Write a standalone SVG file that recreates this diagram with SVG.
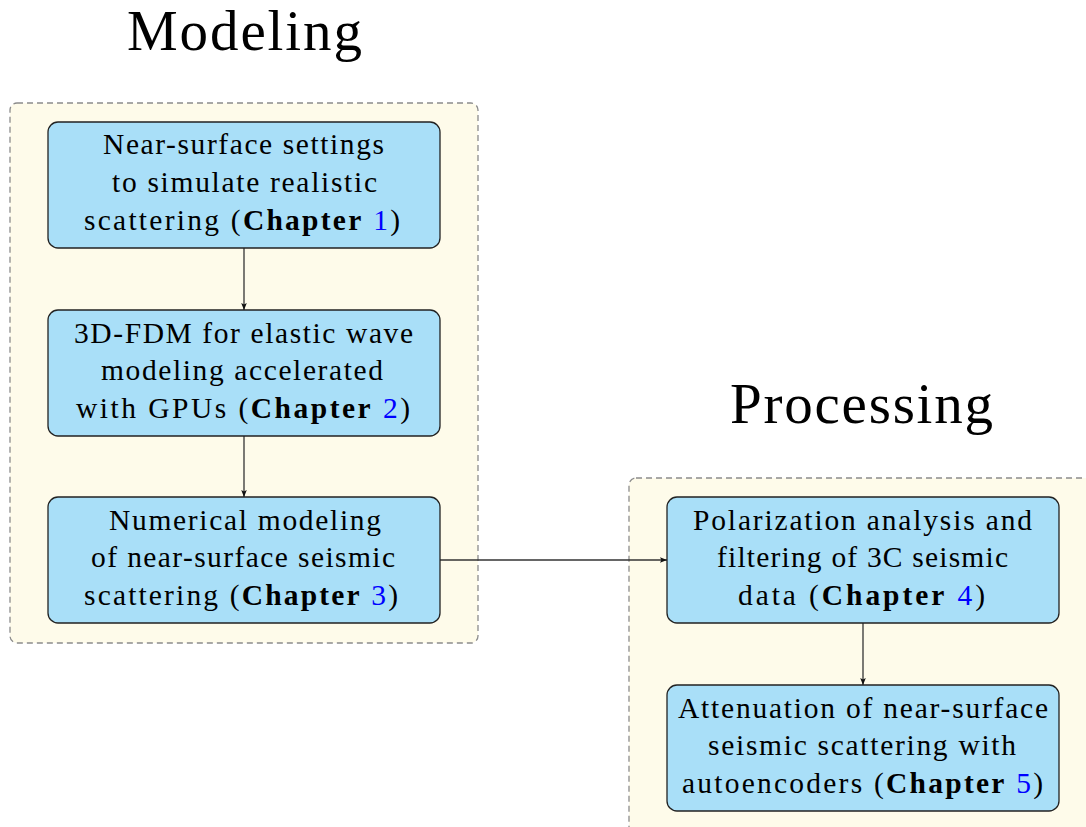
<svg xmlns="http://www.w3.org/2000/svg" width="1086" height="827" viewBox="0 0 1086 827">
<style>
.cont{fill:#FEFBEA;stroke:#8c8c8c;stroke-width:1.3;stroke-dasharray:6 4}
.box{fill:#A9DFF8;stroke:#222;stroke-width:1.3}
.t{font-family:"Liberation Serif",serif;font-size:29.5px;fill:#000}
.title{font-family:"Liberation Serif",serif;font-size:57px;fill:#000}
.b{font-weight:bold}
.n{fill:#0000FF}
.conn{stroke:#333;stroke-width:1.3;fill:none}
</style>
<defs>
<marker id="ah" viewBox="0 0 10 10" refX="10" refY="5" markerWidth="7" markerHeight="7" markerUnits="userSpaceOnUse" orient="auto">
<path d="M0,1 L10,5 L0,9 L2,5 Z" fill="#111"/>
</marker>
</defs>
<rect width="1086" height="827" fill="#fff"/>
<g id="modeling-group">
<rect class="cont" x="10" y="103" width="468" height="540" rx="7"/>
<text class="title" x="127" y="50" textLength="235" lengthAdjust="spacing">Modeling</text>
</g>
<g id="processing-group">
<rect class="cont" x="629" y="478" width="470" height="360" rx="7"/>
<text class="title" x="730" y="423" textLength="263" lengthAdjust="spacing">Processing</text>
</g>
<g id="connectors">
<line class="conn" x1="244" y1="248" x2="244" y2="310" marker-end="url(#ah)"/>
<line class="conn" x1="244" y1="436" x2="244" y2="497" marker-end="url(#ah)"/>
<line class="conn" x1="440" y1="560" x2="667" y2="560" marker-end="url(#ah)"/>
<line class="conn" x1="863" y1="623" x2="863" y2="685" marker-end="url(#ah)"/>
</g>
<g id="node1">
<rect class="box" x="48" y="122" width="392" height="126" rx="10"/>
<text class="t" x="103" y="154" textLength="281" lengthAdjust="spacing">Near-surface settings</text>
<text class="t" x="112" y="191.5" textLength="265" lengthAdjust="spacing">to simulate realistic</text>
<text class="t" x="84" y="229.5" textLength="316" lengthAdjust="spacing">scattering (<tspan class="b">Chapter</tspan> <tspan class="n">1</tspan>)</text>
</g>
<g id="node2">
<rect class="box" x="48" y="310" width="392" height="126" rx="10"/>
<text class="t" x="74" y="342.5" textLength="339" lengthAdjust="spacing">3D-FDM for elastic wave</text>
<text class="t" x="101" y="380" textLength="282" lengthAdjust="spacing">modeling accelerated</text>
<text class="t" x="76" y="417.5" textLength="334" lengthAdjust="spacing">with GPUs (<tspan class="b">Chapter</tspan> <tspan class="n">2</tspan>)</text>
</g>
<g id="node3">
<rect class="box" x="48" y="497" width="392" height="126" rx="10"/>
<text class="t" x="109" y="529.5" textLength="272" lengthAdjust="spacing">Numerical modeling</text>
<text class="t" x="91" y="567" textLength="304" lengthAdjust="spacing">of near-surface seismic</text>
<text class="t" x="84" y="604.5" textLength="314" lengthAdjust="spacing">scattering (<tspan class="b">Chapter</tspan> <tspan class="n">3</tspan>)</text>
</g>
<g id="node4">
<rect class="box" x="667" y="497" width="392" height="126" rx="10"/>
<text class="t" x="693" y="529.5" textLength="339" lengthAdjust="spacing">Polarization analysis and</text>
<text class="t" x="717" y="567" textLength="291" lengthAdjust="spacing">filtering of 3C seismic</text>
<text class="t" x="738" y="604.5" textLength="247" lengthAdjust="spacing">data (<tspan class="b">Chapter</tspan> <tspan class="n">4</tspan>)</text>
</g>
<g id="node5">
<rect class="box" x="667" y="685" width="392" height="126" rx="10"/>
<text class="t" x="678" y="717.5" textLength="370" lengthAdjust="spacing">Attenuation of near-surface</text>
<text class="t" x="708" y="755" textLength="308" lengthAdjust="spacing">seismic scattering with</text>
<text class="t" x="682" y="792.5" textLength="361" lengthAdjust="spacing">autoencoders (<tspan class="b">Chapter</tspan> <tspan class="n">5</tspan>)</text>
</g>
</svg>
